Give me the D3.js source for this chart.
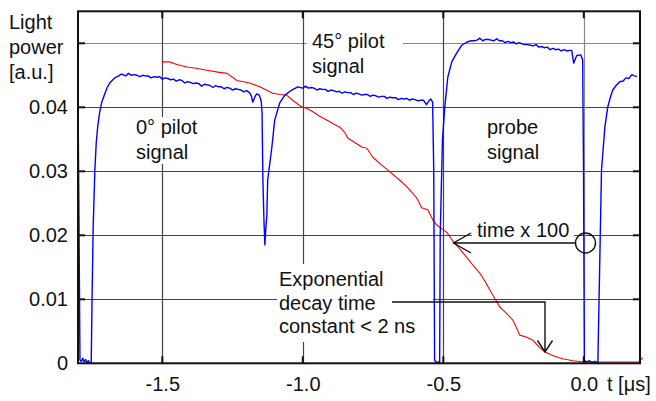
<!DOCTYPE html>
<html><head><meta charset="utf-8">
<script src="https://cdn.jsdelivr.net/npm/d3@7"></script>
<style>
body{margin:0;background:#fff}
svg{display:block}
text{font-family:"Liberation Sans",Arial,Helvetica,sans-serif;font-size:20px;fill:#111}
</style>
</head><body>
<svg id="chart" width="656" height="401"></svg>
<script>
// ---- data ----
const xTicks = [-1.5, -1.0, -0.5, 0.0];
const xTickLabels = ["-1.5", "-1.0", "-0.5", "0.0"];
const yTicks = [0, 0.01, 0.02, 0.03, 0.04];
const yTickLabels = ["0", "0.01", "0.02", "0.03", "0.04"];
const yGrid = [0.01, 0.02, 0.03, 0.04, 0.05];
const xUnitLabel = "t [\u03bcs]";
const yLabelLines = ["Light", "power", "[a.u.]"];

// blue trace: measured light power (time in µs, power in a.u.)
const blueTrace = [
 [-1.800,0.0422],[-1.797,0.0250],[-1.793,0.0005],[-1.788,0.0003],[-1.783,0.0008],[-1.778,0.0002],
 [-1.773,0.0006],[-1.768,0.0001],[-1.763,0.0004],[-1.757,0.0000],[-1.753,0.0000],
 [-1.750,0.0100],[-1.746,0.0213],[-1.740,0.0302],[-1.735,0.0345],[-1.730,0.0369],[-1.723,0.0392],
 [-1.716,0.0407],[-1.704,0.0422],[-1.695,0.0432],[-1.687,0.0438],[-1.669,0.0446],[-1.655,0.0449],
 [-1.645,0.0452],
 [-1.640,0.0451],[-1.630,0.0449],[-1.620,0.0453],[-1.610,0.0450],[-1.600,0.0451],[-1.590,0.0450],
 [-1.580,0.0448],[-1.570,0.0450],[-1.560,0.0449],[-1.550,0.0449],[-1.540,0.0446],[-1.530,0.0448],
 [-1.520,0.0447],[-1.510,0.0448],[-1.500,0.0444],[-1.490,0.0446],[-1.480,0.0445],[-1.470,0.0443],
 [-1.460,0.0444],[-1.450,0.0441],[-1.440,0.0443],[-1.430,0.0442],[-1.420,0.0438],[-1.410,0.0440],
 [-1.400,0.0439],[-1.390,0.0437],[-1.380,0.0438],[-1.370,0.0437],[-1.360,0.0433],[-1.350,0.0436],
 [-1.340,0.0435],[-1.330,0.0434],[-1.320,0.0431],[-1.310,0.0434],[-1.300,0.0432],[-1.290,0.0432],
 [-1.280,0.0429],[-1.270,0.0431],[-1.260,0.0430],[-1.250,0.0427],[-1.240,0.0429],[-1.230,0.0428],
 [-1.220,0.0427],[-1.210,0.0424],[-1.200,0.0426],[-1.190,0.0423],[-1.183,0.0418],[-1.178,0.0408],
 [-1.170,0.0417],[-1.164,0.0421],[-1.155,0.0419],[-1.148,0.0410],[-1.145,0.0391],[-1.142,0.0286],
 [-1.138,0.0220],[-1.135,0.0185],[-1.131,0.0215],[-1.128,0.0230],[-1.125,0.0286],[-1.110,0.0338],
 [-1.100,0.0380],[-1.082,0.0407],[-1.064,0.0419],[-1.039,0.0427],[-1.018,0.0432],
 [-1.000,0.0430],[-0.990,0.0433],[-0.980,0.0430],[-0.970,0.0431],[-0.960,0.0430],[-0.950,0.0427],
 [-0.940,0.0429],[-0.930,0.0428],[-0.920,0.0428],[-0.910,0.0425],[-0.900,0.0427],[-0.890,0.0426],
 [-0.880,0.0424],[-0.870,0.0425],[-0.860,0.0422],[-0.850,0.0424],[-0.840,0.0423],[-0.830,0.0423],
 [-0.820,0.0420],[-0.810,0.0422],[-0.800,0.0421],[-0.790,0.0419],[-0.780,0.0420],[-0.770,0.0420],
 [-0.760,0.0417],[-0.750,0.0419],[-0.740,0.0418],[-0.730,0.0416],[-0.720,0.0417],[-0.710,0.0417],
 [-0.700,0.0414],[-0.690,0.0416],[-0.680,0.0415],[-0.670,0.0415],[-0.660,0.0412],[-0.650,0.0414],
 [-0.640,0.0413],[-0.630,0.0414],[-0.620,0.0411],[-0.610,0.0413],[-0.600,0.0412],[-0.590,0.0410],
 [-0.580,0.0411],[-0.570,0.0411],[-0.560,0.0404],[-0.550,0.0411],[-0.545,0.0413],[-0.538,0.0408],
 [-0.534,0.0300],[-0.531,0.0005],[-0.528,0.0003],[-0.522,0.0001],[-0.516,0.0002],[-0.513,0.0000],
 [-0.511,0.0200],[-0.503,0.0349],[-0.495,0.0399],[-0.484,0.0447],[-0.470,0.0471],[-0.452,0.0485],
 [-0.434,0.0497],[-0.416,0.0502],[-0.400,0.0504],[-0.388,0.0504],
 [-0.380,0.0505],[-0.370,0.0508],[-0.360,0.0504],[-0.350,0.0506],[-0.340,0.0506],[-0.330,0.0505],
 [-0.320,0.0504],[-0.310,0.0507],[-0.300,0.0504],[-0.290,0.0504],[-0.280,0.0501],[-0.270,0.0503],
 [-0.260,0.0501],[-0.250,0.0502],[-0.240,0.0499],[-0.230,0.0501],[-0.220,0.0499],[-0.210,0.0498],
 [-0.200,0.0498],[-0.190,0.0497],[-0.180,0.0496],[-0.170,0.0498],[-0.160,0.0494],[-0.150,0.0495],
 [-0.140,0.0493],[-0.130,0.0494],[-0.120,0.0490],[-0.110,0.0492],[-0.100,0.0490],[-0.090,0.0491],
 [-0.080,0.0488],[-0.070,0.0490],[-0.060,0.0488],[-0.050,0.0489],[-0.043,0.0489],[-0.036,0.0469],
 [-0.030,0.0476],[-0.025,0.0481],[-0.011,0.0482],[-0.004,0.0474],[-0.001,0.0300],[0.002,0.0005],
 [0.010,0.0002],[0.020,0.0004],[0.030,0.0001],[0.040,0.0003],[0.050,0.0000],
 [0.063,0.0302],[0.075,0.0369],[0.085,0.0400],[0.095,0.0416],[0.103,0.0427],[0.115,0.0434],
 [0.128,0.0440],[0.140,0.0441],[0.150,0.0446],[0.160,0.0445],[0.171,0.0451],[0.180,0.0449],
 [0.189,0.0448]
];

// red trace: same signal with time axis x 100
const redTrace = [
 [-1.502,0.0471],[-1.475,0.0471],[-1.448,0.0467],[-1.413,0.0463],[-1.380,0.0461],[-1.342,0.0458],
 [-1.302,0.0455],[-1.270,0.0453],[-1.250,0.0447],[-1.235,0.0442],[-1.210,0.0440],[-1.189,0.0438],
 [-1.153,0.0432],[-1.130,0.0427],[-1.107,0.0422],[-1.080,0.0420],[-1.057,0.0419],[-1.036,0.0411],
 [-1.015,0.0404],[-1.000,0.0400],[-0.985,0.0398],[-0.964,0.0393],[-0.940,0.0386],[-0.915,0.0380],
 [-0.890,0.0374],[-0.868,0.0369],[-0.851,0.0361],[-0.840,0.0352],[-0.822,0.0347],[-0.790,0.0338],
 [-0.772,0.0336],[-0.751,0.0322],[-0.720,0.0310],[-0.690,0.0299],[-0.660,0.0288],[-0.630,0.0276],
 [-0.594,0.0258],[-0.577,0.0243],[-0.555,0.0240],[-0.537,0.0224],[-0.523,0.0216],[-0.505,0.0210],
 [-0.488,0.0205],[-0.466,0.0191],[-0.440,0.0178],[-0.416,0.0165],[-0.392,0.0152],[-0.370,0.0141],
 [-0.350,0.0127],[-0.335,0.0115],[-0.316,0.0101],[-0.299,0.0088],[-0.275,0.0078],[-0.253,0.0068],
 [-0.240,0.0056],[-0.228,0.0044],[-0.205,0.0041],[-0.181,0.0036],[-0.160,0.0026],[-0.139,0.0018],
 [-0.115,0.0013],[-0.096,0.0010],[-0.075,0.0007],[-0.039,0.0004],[0.000,0.0002],[0.100,0.0002],
 [0.195,0.0002],[0.210,0.0009]
];

// ---- layout ----
const svg = d3.select("#chart");
const L = 78, R = 640, T = 11.3, B = 363.3;
const x = d3.scaleLinear().domain([-1.8, 0.2]).range([L, R]);
const y = d3.scaleLinear().domain([0, 0.055]).range([B, T]);

svg.append("rect").attr("width", 656).attr("height", 401).attr("fill", "#fff");

// grid
const grid = svg.append("g");
grid.selectAll(".hg").data(yGrid).join("line")
  .attr("x1", L).attr("x2", R)
  .attr("y1", d => Math.round(y(d)) + 0.5).attr("y2", d => Math.round(y(d)) + 0.5)
  .attr("stroke", d => d === 0.05 ? "#888" : "#444").attr("stroke-width", 1.2);
grid.selectAll(".vg").data(xTicks).join("line")
  .attr("y1", T).attr("y2", B)
  .attr("x1", d => Math.round(x(d)) + 0.5).attr("x2", d => Math.round(x(d)) + 0.5)
  .attr("stroke", d => d === 0 ? "#888" : "#444").attr("stroke-width", 1.2);

// white boxes behind annotations
const boxes = [[130, 117, 228, 164], [307, 28, 403, 80], [482, 117, 548, 164],
               [472, 222, 574, 240], [277, 264, 433, 342]];
svg.append("g").selectAll("rect").data(boxes).join("rect")
  .attr("x", d => d[0]).attr("y", d => d[1])
  .attr("width", d => d[2] - d[0]).attr("height", d => d[3] - d[1])
  .attr("fill", "#fff");

// traces
const line = d3.line().x(d => x(d[0])).y(d => y(d[1]));
svg.append("path").datum(redTrace).attr("d", line)
  .attr("fill", "none").attr("stroke", "#ff0000").attr("stroke-width", 1.1).attr("stroke-linejoin", "round");
svg.append("path").datum(blueTrace).attr("d", line)
  .attr("fill", "none").attr("stroke", "#0000ff").attr("stroke-width", 1.4).attr("stroke-linejoin", "round");

// axes labels
const xAxis = d3.axisBottom(x).tickValues(xTicks).tickFormat((d, i) => xTickLabels[i]).tickSize(0).tickPadding(13.5);
const gx = svg.append("g").attr("transform", `translate(0,${B})`).call(xAxis);
const yAxis = d3.axisLeft(y).tickValues(yTicks).tickFormat((d, i) => yTickLabels[i]).tickSize(0).tickPadding(10);
const gy = svg.append("g").attr("transform", `translate(${L},0)`).call(yAxis);
[gx, gy].forEach(g => {
  g.select(".domain").remove();
  g.selectAll("text").attr("font-size", null).attr("fill", "#111")
    .style("font-family", '"Liberation Sans",Arial,sans-serif').style("font-size", "20px");
  g.attr("font-family", null).attr("font-size", null);
});
svg.append("text").attr("x", 607).attr("y", 391).text(xUnitLabel);
svg.append("g").selectAll("text").data(yLabelLines).join("text")
  .attr("x", 9).attr("y", (d, i) => 29 + i * 25).text(d => d);

// annotations
const notes = [
  {x: 136, y: 134, lines: ["0\u00b0 pilot", "signal"], lh: 25},
  {x: 312, y: 48, lines: ["45\u00b0 pilot", "signal"], lh: 25},
  {x: 487, y: 134, lines: ["probe", "signal"], lh: 25},
  {x: 477, y: 237, lines: ["time x 100"], lh: 25},
  {x: 279, y: 286, lines: ["Exponential", "decay time", "constant < 2 ns"], lh: 23.5}
];
notes.forEach(n => {
  svg.append("g").selectAll("text").data(n.lines).join("text")
    .attr("x", n.x).attr("y", (d, i) => n.y + i * n.lh).text(d => d);
});

// arrows
const ink = "#111";
const arrows = svg.append("g").attr("fill", "none").attr("stroke", ink).attr("stroke-width", 1.4);
arrows.append("path").attr("d", "M575.5,243 H453.5 M471,233 L453.5,243 L471,253");
arrows.append("circle").attr("cx", 585.5).attr("cy", 243).attr("r", 10);
arrows.append("path").attr("d", "M392,302 H545 V352 M537.5,340.5 L545,352 L552.5,340.5");

// frame and inner tick marks
const frame = svg.append("g").attr("stroke", "#111").attr("stroke-width", 2).attr("fill", "none");
frame.append("rect").attr("x", L).attr("y", T).attr("width", R - L).attr("height", B - T);
const tk = 7;
yGrid.forEach(v => {
  frame.append("line").attr("x1", L).attr("x2", L + tk).attr("y1", y(v)).attr("y2", y(v));
  frame.append("line").attr("x1", R - tk).attr("x2", R).attr("y1", y(v)).attr("y2", y(v));
});
xTicks.forEach(v => {
  frame.append("line").attr("x1", x(v)).attr("x2", x(v)).attr("y1", B).attr("y2", B - tk);
  frame.append("line").attr("x1", x(v)).attr("x2", x(v)).attr("y1", T).attr("y2", T + tk);
});
</script>
</body></html>
